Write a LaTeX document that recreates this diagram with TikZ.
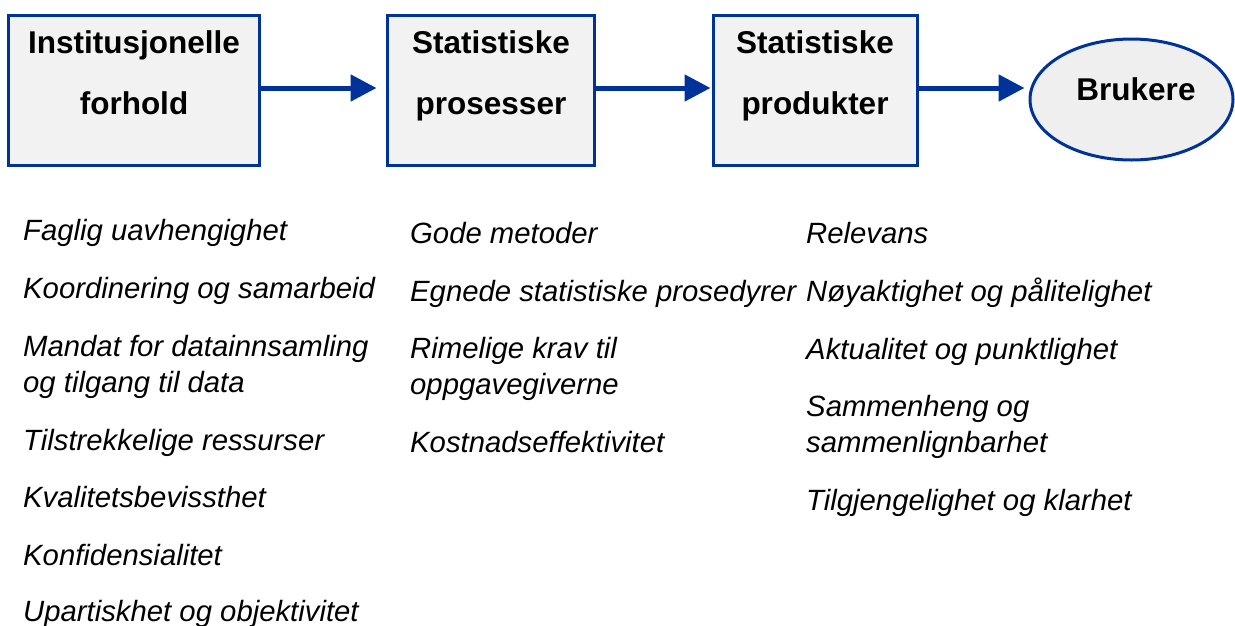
\documentclass[tikz,border=0pt]{standalone}
\usepackage{fontspec}
\setmainfont{Liberation Sans}
\usetikzlibrary{arrows.meta,shapes.geometric}
\definecolor{edgeblue}{RGB}{0,51,153}
\definecolor{boxfill}{RGB}{242,242,242}
\definecolor{ellfill}{RGB}{239,239,239}
\begin{document}
\begin{tikzpicture}[x=1pt,y=-1pt,
  stagebox/.style={draw=edgeblue,line width=3pt,fill=boxfill,rectangle,inner sep=0pt,minimum height=150pt},
  userell/.style={draw=edgeblue,line width=3pt,fill=ellfill,ellipse,inner sep=0pt,minimum width=203pt,minimum height=121pt},
  boxlabel/.style={anchor=base,inner sep=0pt,font=\fontsize{31.5}{36}\selectfont\bfseries},
  item/.style={anchor=base west,inner sep=0pt,align=left,font=\fontsize{29.3}{36}\selectfont\itshape},
  flow/.style={draw=edgeblue,line width=5pt,-{Triangle[length=26pt,width=26pt]}}]
\useasboundingbox (0,0) rectangle (1235,625);
% boxes
\node[stagebox,minimum width=251pt] (b1) at (133.5,90) {};
\node[stagebox,minimum width=207pt] (b2) at (490.5,90) {};
\node[stagebox,minimum width=204pt] (b3) at (815,90) {};
\node[userell] (u) at (1131.5,99.5) {};
% box labels
\node[boxlabel] (l1a) at (134,53) {Institusjonelle};
\node[boxlabel] (l1b) at (134,114) {forhold};
\node[boxlabel] (l2a) at (491,53) {Statistiske};
\node[boxlabel] (l2b) at (491,114) {prosesser};
\node[boxlabel] (l3a) at (815,53) {Statistiske};
\node[boxlabel] (l3b) at (815,114) {produkter};
\node[boxlabel] (lu) at (1136,100) {Brukere};
% arrows
\draw[flow] (b1.east |- 0,88) -- ([xshift=-9pt]b2.west |- 0,88);
\draw[flow] (b2.east |- 0,88) -- ([xshift=-1pt]b3.west |- 0,88);
\draw[flow] (b3.east |- 0,88) -- ([xshift=-4pt]u.west |- 0,88);
% column 1
\node[item] (c1a) at (23,240) {Faglig uavhengighet};
\node[item] (c1b) at (23,298) {Koordinering og samarbeid};
\node[item] (c1c) at (23,392) {Mandat for datainnsamling\\og tilgang til data};
\node[item] (c1d) at (23,450) {Tilstrekkelige ressurser};
\node[item] (c1e) at (23,507) {Kvalitetsbevissthet};
\node[item] (c1f) at (23,565) {Konfidensialitet};
\node[item] (c1g) at (23,621) {Upartiskhet og objektivitet};
% column 2
\node[item] (c2a) at (410,243) {Gode metoder};
\node[item] (c2b) at (410,301) {Egnede statistiske prosedyrer};
\node[item] (c2c) at (410,394) {Rimelige krav til\\oppgavegiverne};
\node[item] (c2d) at (410,452) {Kostnadseffektivitet};
% column 3
\node[item] (c3a) at (806,243) {Relevans};
\node[item] (c3b) at (806,301) {Nøyaktighet og pålitelighet};
\node[item] (c3c) at (806,359) {Aktualitet og punktlighet};
\node[item] (c3d) at (806,452) {Sammenheng og\\sammenlignbarhet};
\node[item] (c3e) at (806,510) {Tilgjengelighet og klarhet};
\end{tikzpicture}
\end{document}
